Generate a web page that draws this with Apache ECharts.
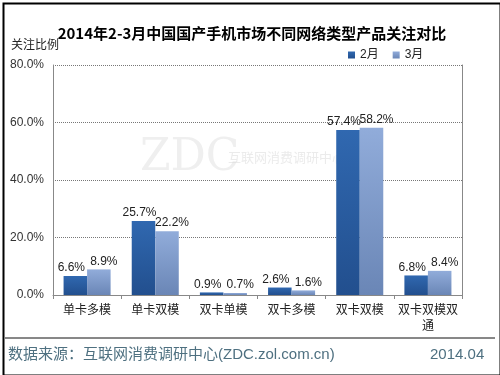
<!DOCTYPE html>
<html>
<head>
<meta charset="utf-8">
<script src="https://cdn.jsdelivr.net/npm/echarts@6/dist/echarts.min.js"></script>
<style>
html,body{margin:0;padding:0;background:#fff;}
#c{width:500px;height:375px;}
</style>
</head>
<body>
<div id="c"></div>
<script>
const categories = ['单卡多模', '单卡双模', '双卡单模', '双卡多模', '双卡双模', '双卡双模双通'];
const febValues = [6.6, 25.7, 0.9, 2.6, 57.4, 6.8];
const marValues = [8.9, 22.2, 0.7, 1.6, 58.2, 8.4];
const seriesNames = ['2月', '3月'];
const yTicks = [0, 20, 40, 60, 80];

const font = 'Liberation Sans, "Noto Sans CJK SC", sans-serif';
const chart = echarts.init(document.getElementById('c'), null, {renderer: 'canvas'});

function grad(top, bottom) {
  return new echarts.graphic.LinearGradient(0, 0, 0, 1, [
    {offset: 0, color: top}, {offset: 1, color: bottom}
  ]);
}

function labelCfg(dx) {
  return {
    show: true, position: 'top', distance: 2, offset: [dx, 0],
    formatter: p => p.value.toFixed(1) + '%',
    color: '#222', fontSize: 12, fontFamily: font
  };
}

const yMin = yTicks[0], yMax = yTicks[yTicks.length - 1];

chart.setOption({
  animation: false,
  backgroundColor: '#fff',
  title: {
    text: '2014年2-3月中国国产手机市场不同网络类型产品关注对比',
    left: 247, top: 21, textAlign: 'center',
    textStyle: {fontSize: 15, fontWeight: 'bold', color: '#000', fontFamily: '"Noto Sans CJK SC", sans-serif'}
  },
  legend: {
    data: seriesNames,
    left: 343, top: 44,
    itemWidth: 7, itemHeight: 7, itemGap: 14,
    icon: 'rect',
    textStyle: {fontSize: 12, color: '#222', fontFamily: font}
  },
  grid: {left: 53, right: 38, top: 65, bottom: 80},
  xAxis: {
    type: 'category',
    data: categories,
    axisLine: {lineStyle: {color: '#888'}},
    axisTick: {show: true, length: 4, lineStyle: {color: '#888'}},
    axisLabel: {
      color: '#222', fontSize: 12, margin: 8, fontFamily: font,
      width: 64, overflow: 'break', interval: 0, lineHeight: 16
    }
  },
  yAxis: [
    {
      type: 'value', min: yMin, max: yMax, interval: 20,
      axisLine: {show: true, lineStyle: {color: '#888'}},
      axisTick: {show: false},
      axisLabel: {formatter: v => v.toFixed(1) + '%', color: '#333', fontSize: 12, margin: 9, fontFamily: font},
      splitLine: {lineStyle: {color: '#777', type: 'dotted'}}
    },
    {
      type: 'value', position: 'right', min: yMin, max: yMax, interval: 20,
      axisLine: {show: true, lineStyle: {color: '#888'}},
      axisTick: {show: false}, axisLabel: {show: false}, splitLine: {show: false}
    }
  ],
  graphic: [
    {type: 'rect', left: 1, top: 1, shape: {width: 497, height: 372}, style: {fill: 'none', stroke: '#000', lineWidth: 2}, silent: true, z: 100},
    {type: 'text', left: 11, top: 40, style: {text: '关注比例', fontSize: 12, fill: '#222', fontFamily: font}},
    {type: 'text', left: 140, top: 137, style: {text: 'ZDC', fontSize: 44, fill: 'rgba(215,215,215,0.4)', fontFamily: 'DejaVu Serif, serif'}, z: 0},
    {type: 'text', left: 228, top: 152, style: {text: '互联网消费调研中心', fontSize: 13, fill: 'rgba(215,215,215,0.5)', fontFamily: font}, z: 0},
    {type: 'line', shape: {x1: 5, y1: 338, x2: 495, y2: 338}, style: {stroke: '#111', lineWidth: 1}},
    {type: 'text', left: 8, top: 347, style: {text: '数据来源：互联网消费调研中心(ZDC.zol.com.cn)', fontSize: 15, fill: '#4E7080', fontFamily: font}},
    {type: 'text', left: 430, top: 347, style: {text: '2014.04', fontSize: 15, fill: '#4E7080', fontFamily: font}}
  ],
  series: [
    {
      name: seriesNames[0], type: 'bar', data: febValues,
      barGap: '0%', barCategoryGap: '31%',
      itemStyle: {color: grad('#3068B0', '#224F8E')},
      label: labelCfg(-4)
    },
    {
      name: seriesNames[1], type: 'bar', data: marValues,
      itemStyle: {color: grad('#91ACDA', '#6A86B6')},
      label: labelCfg(5)
    }
  ]
});
</script>
</body>
</html>
